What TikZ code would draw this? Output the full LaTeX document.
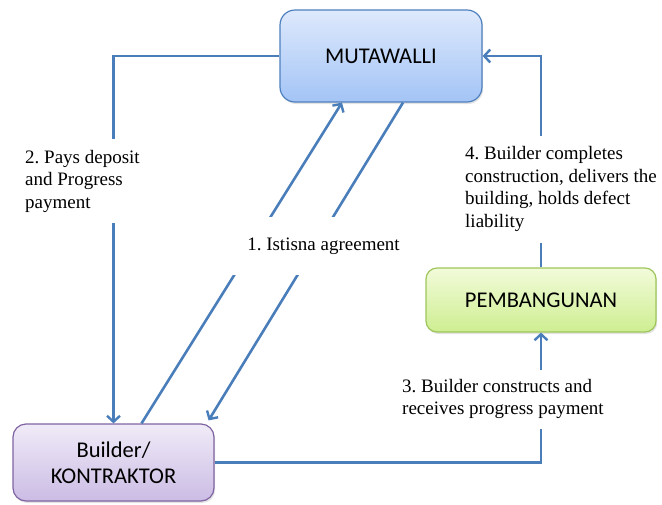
\documentclass[tikz,border=0pt]{standalone}
\usepackage{fontspec}
\setmainfont{Liberation Serif}
\newfontfamily\boxfont{Carlito}
\usetikzlibrary{arrows.meta,shadows}
\frenchspacing

\definecolor{linkblue}{RGB}{74,126,187}
\definecolor{mutline}{RGB}{78,128,190}
\definecolor{mutTop}{RGB}{222,233,252}
\definecolor{mutBot}{RGB}{163,196,246}
\definecolor{pemline}{RGB}{158,198,92}
\definecolor{pemTop}{RGB}{242,251,218}
\definecolor{pemBot}{RGB}{206,238,145}
\definecolor{bldline}{RGB}{128,100,162}
\definecolor{bldTop}{RGB}{240,235,248}
\definecolor{bldBot}{RGB}{203,188,228}

\begin{document}
\begin{tikzpicture}[x=1pt,y=-1pt,
  party/.style={draw, line width=1.2pt, inner sep=0pt, align=center,
    font=\boxfont\fontsize{22.5}{26}\selectfont,
    drop shadow={opacity=0.22, shadow xshift=1.2pt, shadow yshift=-2pt}},
  link/.style={draw=linkblue, line width=2.6pt,
    -{Straight Barb[length=6pt,width=13pt,line width=2.4pt]}},
  lbl/.style={fill=white, inner xsep=4pt, inner ysep=0pt, align=left,
    font=\fontsize{19}{22.5}\selectfont}]
  \useasboundingbox (0,0) rectangle (662,504);

  % the three parties
  \node[party, rounded corners=15pt, top color=mutTop, bottom color=mutBot,
    draw=mutline, minimum width=202pt, minimum height=92pt]
    (mut) at (381,56) {MUTAWALLI};
  \node[party, rounded corners=11pt, top color=pemTop, bottom color=pemBot,
    draw=pemline, minimum width=230pt, minimum height=64pt]
    (pem) at (541,300) {PEMBANGUNAN};
  \node[party, rounded corners=13pt, top color=bldTop, bottom color=bldBot,
    draw=bldline, minimum width=201pt, minimum height=77pt]
    (bld) at (113.5,462.5) {Builder/\\KONTRAKTOR};

  % flows between the parties
  \draw[link] (mut.west) -| (bld.north);
  \draw[link] (bld.east) -| (pem.south);
  \draw[link] (pem.north) |- (mut.east);
  \draw[link] ([xshift=28pt]bld.north) -- ([xshift=-39pt]mut.south);
  \draw[link] ([xshift=22pt]mut.south) -- ([xshift=-6pt,yshift=3pt]bld.north east);

  % step captions, set on white over the flows
  \node[lbl, anchor=west, minimum height=84pt] (pay) at (21,181)
    {2. Pays deposit\\and Progress\\payment};
  \node[lbl, inner xsep=16pt, minimum height=58pt] (ist) at (323.5,246)
    {1. Istisna agreement};
  \node[lbl, anchor=west, minimum height=107pt] (done) at (461,189)
    {4. Builder completes\\construction, delivers the\\building, holds defect\\liability};
  \node[lbl, anchor=west, minimum height=59pt] (make) at (398,399)
    {3. Builder constructs and\\receives progress payment};
\end{tikzpicture}
\end{document}
